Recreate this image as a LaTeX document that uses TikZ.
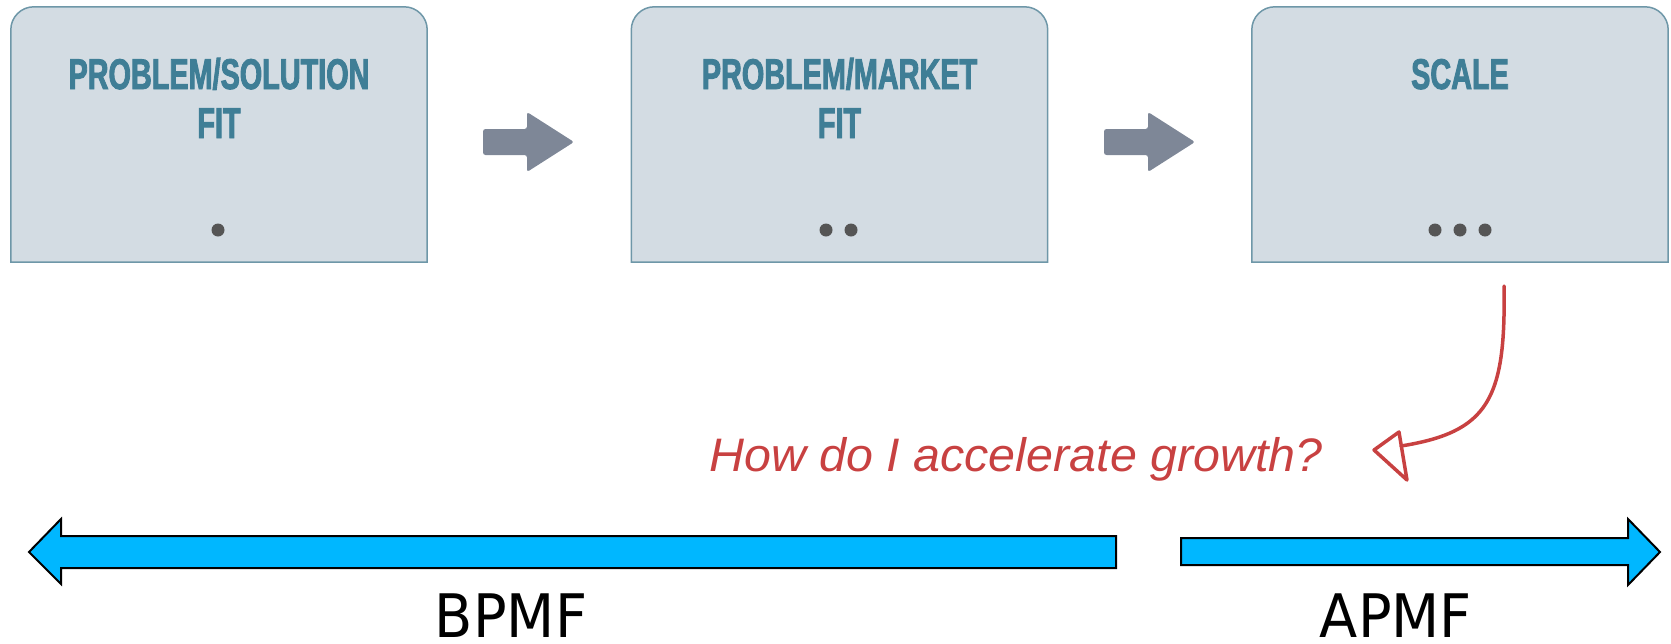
\documentclass[tikz,border=0pt]{standalone}
\usepackage{fontspec}
\setmainfont{Liberation Sans}
\newfontfamily\titlefont[FakeStretch=0.67,FakeBold=2]{Liberation Sans}
\newfontfamily\labelfont[FakeStretch=0.93]{DejaVu Sans}
\newfontfamily\handfont[FakeStretch=1.03]{Liberation Sans}
\definecolor{boxfill}{HTML}{D3DCE3}
\definecolor{boxline}{HTML}{6E97A8}
\definecolor{titleblue}{HTML}{3F7E96}
\definecolor{dotgray}{HTML}{555555}
\definecolor{stepgray}{HTML}{7E8797}
\definecolor{barblue}{HTML}{00B7FF}
\definecolor{notered}{HTML}{C84141}
\tikzset{
  stagebox/.style={minimum width=416pt, minimum height=255pt, inner sep=0pt, draw=none},
  stageedge/.style={fill=boxfill, draw=boxline, line width=1.5pt},
  stagetitle/.style={anchor=base, inner sep=0pt, text=titleblue,
    font=\titlefont\bfseries\fontsize{43}{49}\selectfont},
  stagedot/.style={fill=dotgray},
  steparrow/.style={fill=stepgray, rounded corners=2.5pt},
  bararrow/.style={fill=barblue, draw=black, line width=2pt, line join=miter},
  barlabel/.style={anchor=base, inner sep=0pt, text depth=0pt,
    font=\labelfont\fontsize{60}{60}\selectfont},
  notetext/.style={anchor=base west, inner sep=0pt, text=notered,
    font=\handfont\itshape\fontsize{47}{47}\selectfont},
  noteline/.style={draw=notered, line width=3.5pt, line cap=round, line join=round}
}
\begin{document}
\begin{tikzpicture}[x=1pt,y=-1pt]
\useasboundingbox (0,0) rectangle (1671,643);

% three stages, flat bottoms and rounded tops
\foreach \name/\cx in {b1/219, b2/839.5, b3/1460}{
  \node[stagebox] (\name) at (\cx,134.5) {};
  \draw[stageedge] (\name.south west) [rounded corners=23pt] -- (\name.north west)
    -- (\name.north east) [sharp corners] -- (\name.south east) -- cycle;
}

% stage titles
\node[stagetitle] (t1a) at (219,89) {PROBLEM/SOLUTION};
\node[stagetitle] (t1b) at (219,138) {FIT};
\node[stagetitle] (t2a) at (839.5,89) {PROBLEM/MARKET};
\node[stagetitle] (t2b) at (839.5,138) {FIT};
\node[stagetitle] (t3a) at (1460,89) {SCALE};

% progress dots
\fill[stagedot] (218,230) circle (6.5pt);
\fill[stagedot] (826,230) circle (6.5pt);
\fill[stagedot] (851,230) circle (6.5pt);
\fill[stagedot] (1435,230) circle (6.5pt);
\fill[stagedot] (1460,230) circle (6.5pt);
\fill[stagedot] (1485,230) circle (6.5pt);

% block arrows between the stages
\coordinate (a1) at (483,142);
\coordinate (a2) at (1104,142);
\foreach \a in {a1,a2}{
  \fill[steparrow] (\a) ++(0,-13) -- ++(44,0) -- ++(0,-17) -- ++(47,30)
    -- ++(-47,30) -- ++(0,-17) -- ++(-44,0) -- cycle;
}

% before / after bars
\draw[bararrow] (29,552) -- (61,519) -- (61,536) -- (1116,536) -- (1116,568)
  -- (61,568) -- (61,584) -- cycle;
\draw[bararrow] (1660,552) -- (1628,519) -- (1628,538) -- (1181,538) -- (1181,565)
  -- (1628,565) -- (1628,585) -- cycle;
\node[barlabel] (bpmf) at (511,637) {BPMF};
\node[barlabel] (apmf) at (1396,637) {APMF};

% hand-drawn note
\node[notetext] (note) at (709,471) {How do I accelerate growth?};
\coordinate (q0) at (1504,286);
\coordinate (q1) at (1401,446);
\draw[noteline] (q0) .. controls (1506,400) and (1488,432) .. (q1);
\draw[noteline] (1374,450) -- (1399,432) -- (1407,480) -- cycle;
\end{tikzpicture}
\end{document}
